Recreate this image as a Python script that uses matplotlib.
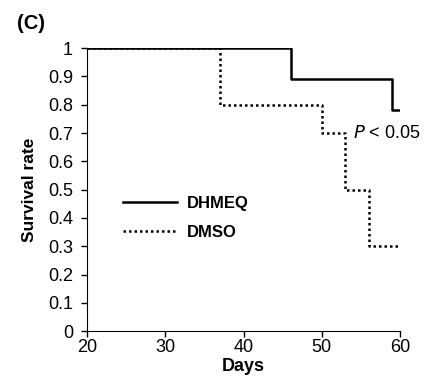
import matplotlib
matplotlib.use('Agg')
import matplotlib.pyplot as plt

plt.rcParams['font.family'] = ['Liberation Sans', 'DejaVu Sans']

# Kaplan-Meier style steps (day, survival)
dhmeq_days = [20, 46, 46, 59, 59, 60]
dhmeq_surv = [1.0, 1.0, 0.89, 0.89, 0.78, 0.78]
dmso_days = [20, 37, 37, 50, 50, 53, 53, 56, 56, 60]
dmso_surv = [1.0, 1.0, 0.8, 0.8, 0.7, 0.7, 0.5, 0.5, 0.3, 0.3]

xticks = [20, 30, 40, 50, 60]
yticks = [0, 0.1, 0.2, 0.3, 0.4, 0.5, 0.6, 0.7, 0.8, 0.9, 1]
ytick_labels = ['0', '0.1', '0.2', '0.3', '0.4', '0.5', '0.6', '0.7', '0.8', '0.9', '1']

fig = plt.figure(figsize=(4.28, 3.85), dpi=100)
ax = fig.add_axes([0.203, 0.140, 0.732, 0.735])

ax.plot(dmso_days, dmso_surv, color='black', linestyle=(0, (1, 1.2)), lw=1.8, label='DMSO')
ax.plot(dhmeq_days, dhmeq_surv, color='black', linestyle='-', lw=1.8, label='DHMEQ')

ax.set_xlim(20, 60)
ax.set_ylim(0, 1)
ax.set_xticks(xticks)
ax.set_yticks(yticks)
ax.set_yticklabels(ytick_labels)
ax.tick_params(labelsize=13, length=4, width=1)
ax.tick_params(axis='x', pad=2)
ax.tick_params(axis='y', pad=6)
ax.spines['top'].set_visible(False)
ax.spines['right'].set_visible(False)

ax.set_xlabel('Days', fontsize=13, fontweight='bold', labelpad=1)
ax.set_ylabel('Survival rate', fontsize=12.5, fontweight='bold', labelpad=8)

handles, labels = ax.get_legend_handles_labels()
ax.legend(handles[::-1], labels[::-1], loc='center left', bbox_to_anchor=(0.068, 0.40),
          frameon=False, handlelength=3.2, prop={'weight': 'bold', 'size': 12},
          labelspacing=0.85, handletextpad=0.65)

ax.text(54, 0.70, '$\\mathit{P}$ < 0.05', fontsize=13, va='center', ha='left')
fig.text(0.04, 0.938, '(C)', fontsize=14.5, fontweight='bold', va='center')

fig.savefig('out.png', dpi=100)
